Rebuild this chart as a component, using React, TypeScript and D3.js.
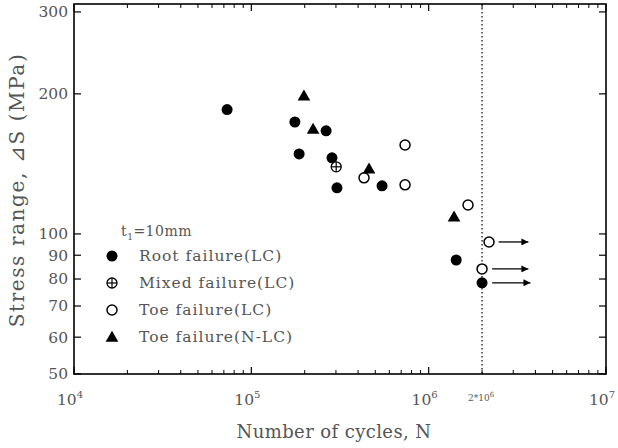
import React from "react";
import * as d3 from "d3";

const rootN = [73000, 176000, 186000, 264000, 285000, 304000, 546000, 1430000, 2000000];
const rootS = [185, 174, 148.6, 166.6, 145.7, 125.6, 126.9, 87.9, 78.5];
const mixedN = [301000];
const mixedS = [139.4];
const toeN = [432000, 736000, 736000, 1667000, 2190000, 2000000];
const toeS = [132, 155.3, 127.5, 115.4, 96.1, 84.1];
const triN = [198000, 223000, 461000, 1390000];
const triS = [198, 168, 138, 108.8];
const runoutS = [96.1, 84.1, 78.5];
const runoutStartN = [2480000, 2280000, 2280000];
const runoutEndN = [3650000, 3650000, 3750000];
const yTicks = [50, 60, 70, 80, 90, 100, 200, 300];
const xMajor = [1e4, 1e5, 1e6, 1e7];
const xMajorExp = ["4", "5", "6", "7"];
const legendLabels = ["Root failure(LC)", "Mixed failure(LC)", "Toe failure(LC)", "Toe failure(N-LC)"];
const runoutLimit = 2e6;

const L = 74, R = 606, T = 4, B = 374;
const x = d3.scaleLog().domain([1e4, 1e7]).range([L, R]);
const y = d3.scaleLog().domain([50, 312]).range([B, T]);
const FONT = "'DejaVu Serif', 'Liberation Serif', serif";
const TXT = "#555";

const tri = d3.symbol().type(d3.symbolTriangle).size(70);

function Marker({ kind, cx, cy }: { kind: number; cx: number; cy: number }) {
  if (kind === 0) return <circle cx={cx} cy={cy} r={5.5} fill="#000" />;
  if (kind === 1)
    return (
      <g>
        <circle cx={cx} cy={cy} r={5} fill="#fff" stroke="#000" strokeWidth={1.3} />
        <line x1={cx - 5} x2={cx + 5} y1={cy} y2={cy} stroke="#000" strokeWidth={1.2} />
        <line x1={cx} x2={cx} y1={cy - 5} y2={cy + 5} stroke="#000" strokeWidth={1.2} />
      </g>
    );
  if (kind === 2) return <circle cx={cx} cy={cy} r={5} fill="#fff" stroke="#000" strokeWidth={1.5} />;
  return <path d={tri() as string} transform={`translate(${cx},${cy + 1})`} fill="#000" />;
}

export default function App() {
  const minors: number[] = [];
  for (let e = 4; e < 7; e++) for (let k = 2; k <= 9; k++) minors.push(k * Math.pow(10, e));
  const sets = [
    { N: rootN, S: rootS, k: 0 },
    { N: mixedN, S: mixedS, k: 1 },
    { N: toeN, S: toeS, k: 2 },
    { N: triN, S: triS, k: 3 },
  ];
  const legY = [256, 283, 310, 337];
  return (
    <svg width={618} height={448} style={{ position: "absolute", left: 0, top: 0 }}>
      <defs>
        <marker id="ah" viewBox="0 0 10 10" refX="10" refY="5" markerWidth="11" markerHeight="7" markerUnits="userSpaceOnUse" orient="auto">
          <path d="M0,0 L10,5 L0,10 z" fill="#000" />
        </marker>
      </defs>
      <rect x={0} y={0} width={618} height={448} fill="#fff" />
      <line x1={x(runoutLimit)} x2={x(runoutLimit)} y1={T} y2={B} stroke="#000" strokeWidth={1.2} strokeDasharray="1.5,2.5" />
      {xMajor.map((v) => (
        <g key={"xm" + v}>
          <line x1={x(v)} x2={x(v)} y1={B} y2={B - 7} stroke="#000" strokeWidth={1.2} />
          <line x1={x(v)} x2={x(v)} y1={T} y2={T + 7} stroke="#000" strokeWidth={1.2} />
        </g>
      ))}
      {minors.map((v) => (
        <g key={"xn" + v}>
          <line x1={x(v)} x2={x(v)} y1={B} y2={B - 4} stroke="#000" strokeWidth={1} />
          <line x1={x(v)} x2={x(v)} y1={T} y2={T + 4} stroke="#000" strokeWidth={1} />
        </g>
      ))}
      {yTicks.map((v) => (
        <g key={"y" + v}>
          <line x1={L} x2={L + 7} y1={y(v)} y2={y(v)} stroke="#000" strokeWidth={1.2} />
          <line x1={R} x2={R - 7} y1={y(v)} y2={y(v)} stroke="#000" strokeWidth={1.2} />
          <text x={L - 6} y={y(v)} dy="0.35em" textAnchor="end" fontFamily={FONT} fontSize={15.5} fill={TXT}>
            {v}
          </text>
        </g>
      ))}
      {xMajor.map((v, i) => (
        <text key={"xl" + v} x={x(v) - 4} y={B + 31} textAnchor="middle" fontFamily={FONT} fontSize={15.5} fill={TXT}>
          10
          <tspan dy={-7} fontSize={10}>{xMajorExp[i]}</tspan>
        </text>
      ))}
      <text x={x(runoutLimit) - 1} y={B + 27} textAnchor="middle" fontFamily={FONT} fontSize={9} fill={TXT}>
        2*10
        <tspan dy={-4} fontSize={7}>6</tspan>
      </text>
      <rect x={L} y={T} width={R - L} height={B - T} fill="none" stroke="#000" strokeWidth={1.6} />
      {runoutS.map((s, i) => (
        <line key={"ar" + i} x1={x(runoutStartN[i])} x2={x(runoutEndN[i])} y1={y(s)} y2={y(s)} stroke="#000" strokeWidth={1.3} markerEnd="url(#ah)" />
      ))}
      {sets.map((st) =>
        st.N.map((n, i) => <Marker key={st.k + "-" + i} kind={st.k} cx={x(n)} cy={y(st.S[i])} />)
      )}
      <text x={121} y={236} fontFamily={FONT} fontSize={14} fill={TXT} letterSpacing={0.5}>
        t<tspan dy={4} fontSize={9}>1</tspan><tspan dy={-4}>=10mm</tspan>
      </text>
      {legendLabels.map((lab, i) => (
        <g key={"lg" + i}>
          <Marker kind={i} cx={112} cy={legY[i]} />
          <text x={139} y={legY[i]} dy="0.35em" fontFamily={FONT} fontSize={15.5} letterSpacing={1} fill={TXT}>
            {lab}
          </text>
        </g>
      ))}
      <text x={334} y={438} textAnchor="middle" fontFamily={FONT} fontSize={18} letterSpacing={0.4} fill={TXT}>
        Number of cycles, N
      </text>
      <text transform={`translate(24,${190}) rotate(-90)`} textAnchor="middle" fontFamily={FONT} fontSize={20} letterSpacing={1.6} fill={TXT}>
        Stress range, ⊿S (MPa)
      </text>
    </svg>
  );
}
